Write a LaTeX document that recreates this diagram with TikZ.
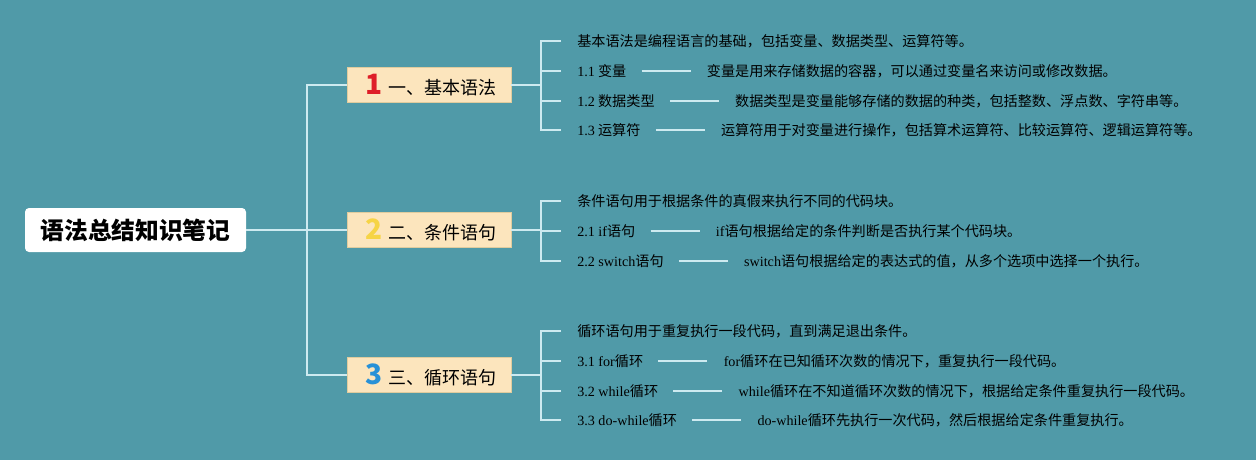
\documentclass[tikz,border=0pt]{standalone}
\usepackage{fontspec}
\setmainfont{Liberation Serif}
\newfontfamily\cjk{Noto Sans CJK SC}
\usetikzlibrary{positioning}

\definecolor{bgteal}{RGB}{80,154,168}
\definecolor{boxfill}{RGB}{252,229,189}
\definecolor{boxline}{RGB}{224,204,158}
\definecolor{linkline}{RGB}{205,234,240}
\definecolor{numred}{RGB}{222,30,40}
\definecolor{numyellow}{RGB}{246,212,70}
\definecolor{numblue}{RGB}{40,145,215}

\newcommand\en[1]{{\rmfamily #1}}
\newcommand\bignum[2]{\hspace{3pt}{\color{#1}\bfseries\fontsize{21}{21}\selectfont #2}\hspace{5pt}}

\tikzset{
  root/.style={fill=white, rounded corners=3pt, minimum width=165.75pt, minimum height=33pt,
    inner sep=0pt, font=\cjk\bfseries\fontsize{17.8}{20}\selectfont},
  branch/.style={fill=boxfill, draw=boxline, line width=0.6pt, minimum width=123pt,
    minimum height=26.25pt, inner sep=0pt, font=\cjk\fontsize{13.5}{15}\selectfont},
  leaf/.style={inner sep=0pt, anchor=west, font=\cjk\fontsize{10.6}{12}\selectfont},
  desc/.style={inner sep=0pt, font=\cjk\fontsize{10.6}{12}\selectfont},
  tree/.style={draw=linkline, line width=1.3pt},
  link/.style={draw=linkline, line width=1.1pt},
}

\begin{document}
\begin{tikzpicture}[x=0.75pt,y=-0.75pt]
  \fill[bgteal] (0,0) rectangle (1256,460);
  \useasboundingbox (0,0) rectangle (1256,460);

  % root and main branches
  \node (root) [root] at (135.5,230) {语法总结知识笔记};
  \node (b1) [branch] at (429,85) {\bignum{numred}{1}一、基本语法};
  \node (b2) [branch] at (429,230) {\bignum{numyellow}{2}二、条件语句};
  \node (b3) [branch] at (429,375) {\bignum{numblue}{3}三、循环语句};

  \coordinate (fork) at (307,230);
  \draw[tree] (root.east) -- (b2.west);
  \draw[tree] (b1.west) -| (fork);
  \draw[tree] (b3.west) -| (fork);

  % branch 1
  \coordinate (f1) at (541,85);
  \draw[tree] (b1.east) -- (f1);
  \node (l10) [leaf] at (577,41) {基本语法是编程语言的基础，包括变量、数据类型、运算符等。};
  \node (l11) [leaf] at (577,71) {\en{1.1} 变量};
  \node (d11) [desc, right=60pt of l11] {变量是用来存储数据的容器，可以通过变量名来访问或修改数据。};
  \node (l12) [leaf] at (577,101) {\en{1.2} 数据类型};
  \node (d12) [desc, right=60pt of l12] {数据类型是变量能够存储的数据的种类，包括整数、浮点数、字符串等。};
  \node (l13) [leaf] at (577,130) {\en{1.3} 运算符};
  \node (d13) [desc, right=60pt of l13] {运算符用于对变量进行操作，包括算术运算符、比较运算符、逻辑运算符等。};
  \foreach \n in {l10,l11,l12,l13}
    \draw[tree] ([xshift=-12pt]\n.west) -| (f1);
  \foreach \n in {11,12,13}
    \draw[link] ([xshift=11.25pt]l\n.east) -- ([xshift=-12pt]d\n.west);

  % branch 2
  \coordinate (f2) at (541,230);
  \draw[tree] (b2.east) -- (f2);
  \node (l20) [leaf] at (577,201) {条件语句用于根据条件的真假来执行不同的代码块。};
  \node (l21) [leaf] at (577,231) {\en{2.1 if}语句};
  \node (d21) [desc, right=60pt of l21] {\en{if}语句根据给定的条件判断是否执行某个代码块。};
  \node (l22) [leaf] at (577,261) {\en{2.2 switch}语句};
  \node (d22) [desc, right=60pt of l22] {\en{switch}语句根据给定的表达式的值，从多个选项中选择一个执行。};
  \foreach \n in {l20,l21,l22}
    \draw[tree] ([xshift=-12pt]\n.west) -| (f2);
  \foreach \n in {21,22}
    \draw[link] ([xshift=11.25pt]l\n.east) -- ([xshift=-12pt]d\n.west);

  % branch 3
  \coordinate (f3) at (541,375);
  \draw[tree] (b3.east) -- (f3);
  \node (l30) [leaf] at (577,331) {循环语句用于重复执行一段代码，直到满足退出条件。};
  \node (l31) [leaf] at (577,361) {\en{3.1 for}循环};
  \node (d31) [desc, right=60pt of l31] {\en{for}循环在已知循环次数的情况下，重复执行一段代码。};
  \node (l32) [leaf] at (577,391) {\en{3.2 while}循环};
  \node (d32) [desc, right=60pt of l32] {\en{while}循环在不知道循环次数的情况下，根据给定条件重复执行一段代码。};
  \node (l33) [leaf] at (577,420) {\en{3.3 do-while}循环};
  \node (d33) [desc, right=60pt of l33] {\en{do-while}循环先执行一次代码，然后根据给定条件重复执行。};
  \foreach \n in {l30,l31,l32,l33}
    \draw[tree] ([xshift=-12pt]\n.west) -| (f3);
  \foreach \n in {31,32,33}
    \draw[link] ([xshift=11.25pt]l\n.east) -- ([xshift=-12pt]d\n.west);
\end{tikzpicture}
\end{document}
